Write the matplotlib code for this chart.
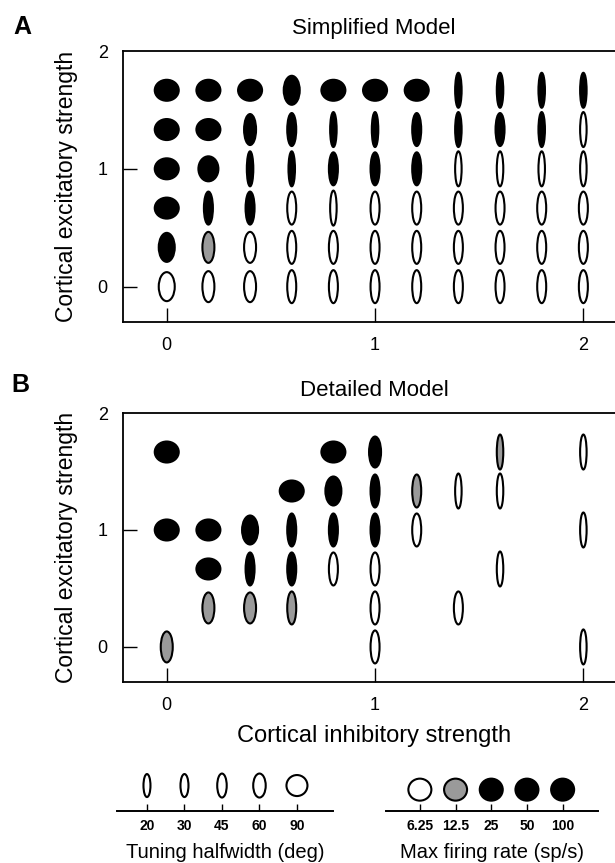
import numpy as np
import matplotlib
matplotlib.use("Agg")
import matplotlib.pyplot as plt
from matplotlib.collections import EllipseCollection

plt.rcParams["font.family"] = ["Liberation Sans", "DejaVu Sans"]

# grid of model parameters
inh_steps = [0.0, 0.2, 0.4, 0.6, 0.8, 1.0, 1.2, 1.4, 1.6, 1.8, 2.0]
exc_steps = [0.0, 1 / 3, 2 / 3, 1.0, 4 / 3, 5 / 3]

# Panel A: tuning halfwidth (deg) per row, bottom row (exc = 0) first
simple_halfwidth = [
    [60, 45, 45, 30, 30, 30, 30, 30, 30, 30, 30],
    [60, 45, 45, 30, 30, 30, 30, 30, 30, 30, 30],
    [90, 30, 30, 30, 20, 30, 30, 30, 30, 30, 30],
    [90, 75, 20, 20, 30, 30, 30, 20, 20, 20, 20],
    [90, 90, 45, 30, 20, 20, 30, 20, 30, 20, 20],
    [90, 90, 90, 60, 90, 90, 90, 20, 20, 20, 20],
]
# Panel A: max firing rate (sp/s), 25 = 25 or more
simple_rate = [
    [6.25, 6.25, 6.25, 6.25, 6.25, 6.25, 6.25, 6.25, 6.25, 6.25, 6.25],
    [25, 12.5, 6.25, 6.25, 6.25, 6.25, 6.25, 6.25, 6.25, 6.25, 6.25],
    [25, 25, 25, 6.25, 6.25, 6.25, 6.25, 6.25, 6.25, 6.25, 6.25],
    [25, 25, 25, 25, 25, 25, 25, 6.25, 6.25, 6.25, 6.25],
    [25, 25, 25, 25, 25, 25, 25, 25, 25, 25, 6.25],
    [25, 25, 25, 25, 25, 25, 25, 25, 25, 25, 25],
]

# Panel B: only the simulated points
detail_inh = [0.0, 1.0, 2.0,
              0.2, 0.4, 0.6, 1.0, 1.4,
              0.2, 0.4, 0.6, 0.8, 1.0, 1.6,
              0.0, 0.2, 0.4, 0.6, 0.8, 1.0, 1.2, 2.0,
              0.6, 0.8, 1.0, 1.2, 1.4, 1.6,
              0.0, 0.8, 1.0, 1.6, 2.0]
detail_exc = [0, 0, 0,
              1 / 3, 1 / 3, 1 / 3, 1 / 3, 1 / 3,
              2 / 3, 2 / 3, 2 / 3, 2 / 3, 2 / 3, 2 / 3,
              1, 1, 1, 1, 1, 1, 1, 1,
              4 / 3, 4 / 3, 4 / 3, 4 / 3, 4 / 3, 4 / 3,
              5 / 3, 5 / 3, 5 / 3, 5 / 3, 5 / 3]
detail_halfwidth = [45, 30, 20,
                    45, 45, 30, 30, 30,
                    90, 30, 30, 30, 30, 20,
                    90, 90, 60, 30, 30, 30, 30, 20,
                    90, 60, 30, 30, 20, 20,
                    90, 90, 45, 20, 20]
detail_rate = [12.5, 6.25, 6.25,
               12.5, 12.5, 12.5, 6.25, 6.25,
               25, 25, 25, 6.25, 6.25, 6.25,
               25, 25, 25, 25, 25, 25, 6.25, 6.25,
               25, 25, 25, 12.5, 6.25, 6.25,
               25, 25, 25, 12.5, 6.25]

legend_halfwidth = [20, 30, 45, 60, 90]
legend_rate = [6.25, 12.5, 25, 50, 100]
legend_rate_labels = ["6.25", "12.5", "25", "50", "100"]

# glyph shape (pixels) as a function of halfwidth
HW_KEYS = [20, 30, 45, 60, 90]
PANEL_W = [6.5, 9, 12, 16, 24]
PANEL_H = [35, 33, 31, 29, 21]
LEG_W = [7, 8, 9.5, 12.5, 21]
LEG_H = [23, 23, 24, 24, 21]


def rate_color(r):
    if r < 10:
        return "white"
    if r < 20:
        return "#9a9a9a"
    return "black"


def draw_glyphs(ax, xs, ys, hws, rates, wtab, htab):
    w = np.interp(hws, HW_KEYS, wtab)
    h = np.interp(hws, HW_KEYS, htab)
    ec = EllipseCollection(w, h, np.zeros(len(w)), units="dots",
                           offsets=np.column_stack([xs, ys]),
                           offset_transform=ax.transData,
                           facecolors=[rate_color(r) for r in rates],
                           edgecolors="black", linewidths=1.5, zorder=3)
    ax.add_collection(ec)


def style_panel(ax, title):
    ax.set_xlim(-0.21, 2.2)
    ax.set_ylim(-0.3, 2.0)
    ax.set_xticks([0, 1, 2])
    ax.set_yticks([0, 1, 2])
    ax.tick_params(direction="in", length=10, width=1.0, labelsize=13)
    ax.tick_params(axis="y", pad=11)
    ax.tick_params(axis="x", pad=11)
    ax.tick_params(top=False, right=False)
    ax.yaxis.get_major_ticks()[2].tick1line.set_visible(False)
    for s in ax.spines.values():
        s.set_linewidth(1.3)
    ax.set_title(title, fontsize=16, pad=12)
    ax.set_ylabel("Cortical excitatory strength", fontsize=16.5, labelpad=14)


fig = plt.figure(figsize=(6.15, 8.63), dpi=100)

axA = fig.add_axes([0.2, 0.6269, 0.8163, 0.3140])
gx, gy = np.meshgrid(inh_steps, exc_steps)
draw_glyphs(axA, gx.ravel(), gy.ravel(), np.ravel(simple_halfwidth),
            np.ravel(simple_rate), PANEL_W, PANEL_H)
style_panel(axA, "Simplified Model")

axB = fig.add_axes([0.2, 0.2097, 0.8163, 0.3117])
draw_glyphs(axB, detail_inh, detail_exc, detail_halfwidth, detail_rate,
            PANEL_W, PANEL_H)
style_panel(axB, "Detailed Model")
axB.set_xlabel("Cortical inhibitory strength", fontsize=17, labelpad=8)

fig.text(22 / 615, 1 - 27 / 863, "A", fontsize=18, fontweight="bold",
         ha="center", va="center")
fig.text(20 / 615, 1 - 385 / 863, "B", fontsize=18, fontweight="bold",
         ha="center", va="center")

# legends
pos = np.arange(5)
legH = fig.add_axes([0.1902, 0.0603, 0.3512, 0.0475])
draw_glyphs(legH, pos, np.full(5, 0.62), legend_halfwidth, [6.25] * 5,
            LEG_W, LEG_H)
legH.set_xlim(-0.8, 4.96)
legH.set_xticks(pos)
legH.set_xticklabels([str(v) for v in legend_halfwidth])
legH.set_xlabel("Tuning halfwidth (deg)", fontsize=14.5, labelpad=7)

legR = fig.add_axes([0.6276, 0.0603, 0.3447, 0.0475])
draw_glyphs(legR, pos, np.full(5, 0.52), [90] * 5, legend_rate,
            [23] * 5, [22] * 5)
legR.set_xlim(-0.95, 4.99)
legR.set_xticks(pos)
legR.set_xticklabels(legend_rate_labels)
legR.set_xlabel("Max firing rate (sp/s)", fontsize=14.5, labelpad=7)

for ax in (legH, legR):
    ax.set_ylim(0, 1)
    ax.set_yticks([])
    for side in ("top", "left", "right"):
        ax.spines[side].set_visible(False)
    ax.spines["bottom"].set_linewidth(1.4)
    ax.tick_params(axis="x", direction="in", length=5, width=1.0, pad=6,
                   labelsize=10)
    for t in ax.get_xticklabels():
        t.set_fontweight("bold")
    ax.patch.set_visible(False)

fig.savefig("out.png", dpi=100)
